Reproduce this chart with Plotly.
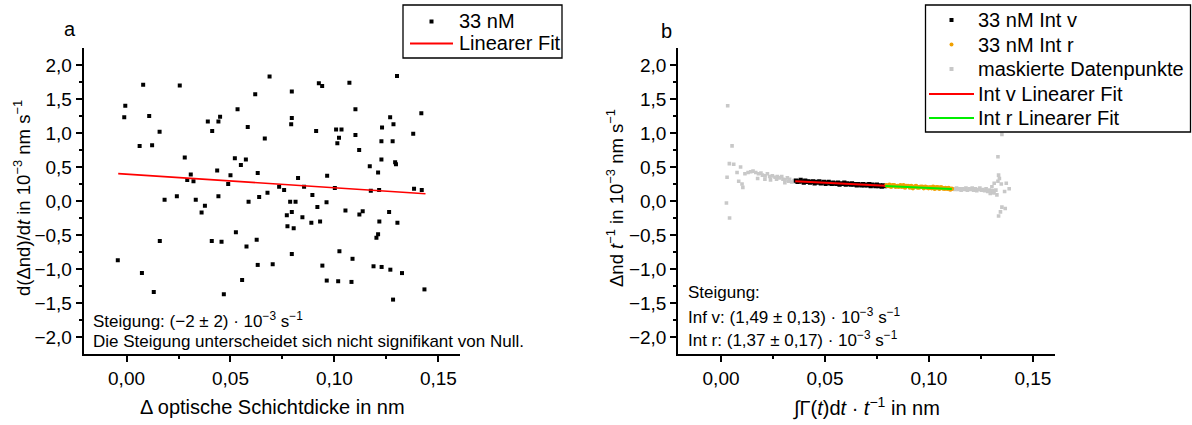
import plotly.graph_objects as go

# ---------------- Panel a: rate vs. optical thickness change ----------------
a_x = [0.0080, 0.0256, -0.0006, -0.0011, 0.0109, 0.0159, 0.0063, 0.0123, 0.0280, 0.0309,
       0.0292, 0.0322, 0.0391, 0.0442, 0.0450, 0.0412, 0.0436, 0.0500, 0.0489, 0.0521,
       0.0550, 0.0534,
       0.0183, 0.0242, 0.0333, 0.0442, 0.0377, 0.0361, 0.0526, 0.0160, 0.0410, 0.0457,
       -0.0042, 0.0074, 0.0556, 0.0131, 0.0468,
       0.0688, 0.0619, 0.0795, 0.0925, 0.0941, 0.1072, 0.1301, 0.1101, 0.0795, 0.0792,
       0.0583, 0.0665, 0.0912, 0.1008, 0.1034, 0.1022, 0.1014, 0.1101, 0.1268, 0.1284,
       0.1229, 0.1226, 0.1280, 0.1119, 0.0574, 0.0631, 0.1226, 0.1292, 0.1296, 0.1170,
       0.1210, 0.0825, 0.0965, 0.0734, 0.0758, 0.0854, 0.1002, 0.1175, 0.1215, 0.0678,
       0.0638, 0.0894,
       0.1379, 0.1418, 0.1383, 0.1420, 0.1433,
       0.0587, 0.0787, 0.0813, 0.0962, 0.0918, 0.0795, 0.0771, 0.0846, 0.0774, 0.0804,
       0.0889, 0.0931, 0.1053, 0.1136, 0.1120, 0.1263, 0.1216, 0.1303, 0.1210, 0.1202,
       0.0626, 0.0577, 0.0795, 0.1024, 0.1087, 0.0631, 0.0703, 0.0942, 0.1188, 0.1227,
       0.1269, 0.1325, 0.0963, 0.1018, 0.1082, 0.1282]
a_y = [1.71, 1.70, 1.40, 1.23, 1.25, 1.02, 0.81, 0.82, 0.64, 0.39,
       0.31, 0.29, 1.17, 1.17, 1.24, 1.03, 0.45, 0.38, 0.25, 0.63,
       0.53, 1.35,
       0.02, 0.07, 0.02, 0.07, -0.07, -0.17, -0.46, -0.59, -0.59, -0.60,
       -0.87, -1.06, -1.16, -1.34, -1.37,
       1.83, 1.57, 1.61, 1.73, 1.69, 1.74, 1.84, 1.35, 1.22, 1.13,
       1.09, 0.92, 1.03, 1.05, 1.05, 0.93, 0.85, 0.97, 1.23, 1.13,
       1.08, 0.88, 0.88, 0.75, 0.61, 0.41, 0.61, 0.57, 0.54, 0.51,
       0.42, 0.34, 0.37, 0.21, 0.16, 0.21, 0.19, 0.15, 0.16, 0.12,
       0.06, 0.09,
       0.99, 1.29, 0.18, 0.16, -1.30,
       -0.01, -0.01, -0.01, -0.02, -0.09, -0.16, -0.21, -0.24, -0.37, -0.40,
       -0.32, -0.30, -0.14, -0.15, -0.20, -0.16, -0.30, -0.32, -0.49, -0.54,
       -0.57, -0.67, -0.78, -0.74, -0.85, -0.94, -0.93, -0.95, -0.96, -0.97,
       -1.01, -1.06, -1.17, -1.18, -1.19, -1.45]

# linear fit of panel a (slope in 10^-3 s^-1)
a_fit_slope = -2.0
a_fit_center = (0.070, 0.255)
a_fit_xrange = [-0.0040, 0.1438]

# ---------------- Panel b: rate per time vs. integrated adsorption ----------------
masked_x = [0.0032, 0.0053, 0.0040, 0.0061, 0.0094, 0.0077, 0.0029, 0.0085, 0.0101, 0.0105,
            0.0026, 0.0041,
            0.0115, 0.0130, 0.0143, 0.0154, 0.0167, 0.0180, 0.0192, 0.0199, 0.0212, 0.0223,
            0.0234, 0.0247, 0.0260, 0.0271, 0.0282, 0.0292, 0.0298, 0.0308, 0.0319, 0.0330,
            0.0340, 0.0351, 0.0357, 0.0176, 0.0211, 0.0238, 0.0267, 0.0307, 0.0325,
            0.1118, 0.1125, 0.1133, 0.1140, 0.1148, 0.1155, 0.1163, 0.1170, 0.1178, 0.1185,
            0.1193, 0.1200, 0.1208, 0.1215, 0.1223, 0.1230, 0.1238, 0.1245, 0.1253, 0.1260,
            0.1268, 0.1275, 0.1283, 0.1290, 0.1298, 0.1305, 0.1313,
            0.1351, 0.1332, 0.1335, 0.1339, 0.1332, 0.1314, 0.1348, 0.1372, 0.1303, 0.1322,
            0.1298, 0.1364, 0.1386, 0.1327, 0.1295, 0.1311, 0.1351, 0.1344, 0.1367, 0.1335]
masked_y = [1.40, 0.81, 0.55, 0.54, 0.50, 0.42, 0.35, 0.29, 0.25, 0.20,
            -0.03, -0.25,
            0.40, 0.42, 0.43, 0.44, 0.42, 0.40, 0.41, 0.38, 0.37, 0.40,
            0.36, 0.37, 0.35, 0.36, 0.34, 0.36, 0.32, 0.31, 0.34, 0.32,
            0.28, 0.30, 0.28, 0.33, 0.32, 0.31, 0.32, 0.27, 0.29,
            0.18, 0.17, 0.19, 0.17, 0.18, 0.16, 0.18, 0.17, 0.19, 0.16,
            0.18, 0.17, 0.19, 0.16, 0.18, 0.15, 0.17, 0.19, 0.16, 0.17,
            0.15, 0.18, 0.14, 0.16, 0.13, 0.15, 0.12,
            0.98, 0.65, 0.38, 0.33, 0.29, 0.26, 0.25, 0.26, 0.21, 0.16,
            0.14, 0.14, 0.18, 0.09, 0.11, 0.13, -0.09, -0.16, -0.11, -0.22]

int_v_x = [0.0360, 0.0368, 0.0375, 0.0383, 0.0390, 0.0398, 0.0405, 0.0413, 0.0420, 0.0428,
           0.0435, 0.0443, 0.0450, 0.0458, 0.0465, 0.0473, 0.0480, 0.0488, 0.0495, 0.0503,
           0.0510, 0.0518, 0.0525, 0.0533, 0.0540, 0.0548, 0.0555, 0.0563, 0.0570, 0.0578,
           0.0585, 0.0593, 0.0600, 0.0608, 0.0615, 0.0623, 0.0630, 0.0638, 0.0645, 0.0653,
           0.0660, 0.0668, 0.0675, 0.0683, 0.0690, 0.0698, 0.0705, 0.0713, 0.0720, 0.0728,
           0.0735, 0.0743, 0.0750, 0.0758, 0.0765, 0.0773, 0.0780, 0.0788]
int_v_y = [0.30, 0.28, 0.29, 0.31, 0.29, 0.27, 0.30, 0.28, 0.29, 0.27,
           0.28, 0.29, 0.26, 0.28, 0.27, 0.29, 0.26, 0.27, 0.28, 0.25,
           0.27, 0.28, 0.26, 0.25, 0.27, 0.26, 0.25, 0.27, 0.24, 0.26,
           0.25, 0.27, 0.24, 0.26, 0.25, 0.24, 0.26, 0.24, 0.25, 0.23,
           0.25, 0.24, 0.23, 0.25, 0.23, 0.24, 0.23, 0.25, 0.22, 0.24,
           0.23, 0.22, 0.24, 0.22, 0.23, 0.21, 0.23, 0.22]

int_r_x = [0.0795, 0.0803, 0.0810, 0.0818, 0.0825, 0.0833, 0.0840, 0.0848, 0.0855, 0.0863,
           0.0870, 0.0878, 0.0885, 0.0893, 0.0900, 0.0908, 0.0915, 0.0923, 0.0930, 0.0938,
           0.0945, 0.0953, 0.0960, 0.0968, 0.0975, 0.0983, 0.0990, 0.0998, 0.1005, 0.1013,
           0.1020, 0.1028, 0.1035, 0.1043, 0.1050, 0.1058, 0.1065, 0.1073, 0.1080, 0.1088,
           0.1095, 0.1103, 0.1110]
int_r_y = [0.23, 0.22, 0.24, 0.21, 0.23, 0.23, 0.21, 0.22, 0.21, 0.23,
           0.21, 0.23, 0.20, 0.22, 0.22, 0.20, 0.22, 0.19, 0.21, 0.22,
           0.20, 0.20, 0.21, 0.21, 0.19, 0.21, 0.20, 0.19, 0.20, 0.19,
           0.21, 0.18, 0.20, 0.20, 0.18, 0.20, 0.19, 0.18, 0.19, 0.18,
           0.19, 0.17, 0.18]

# linear fits of panel b (slopes in 10^-3 s^-1)
v_fit_slope, v_fit_center, v_fit_xrange = -1.49, (0.0574, 0.2575), [0.0357, 0.0790]
r_fit_slope, r_fit_center, r_fit_xrange = -1.37, (0.0790, 0.2210), [0.0790, 0.1110]

# axis ticks
x_ticks = [0.0, 0.05, 0.10, 0.15]
x_tick_text = ["0,00", "0,05", "0,10", "0,15"]
y_ticks = [-2.0, -1.5, -1.0, -0.5, 0.0, 0.5, 1.0, 1.5, 2.0]
y_tick_text = ["\u22122,0", "\u22121,5", "\u22121,0", "\u22120,5", "0,0", "0,5", "1,0", "1,5", "2,0"]

# legend entries: (label, kind, colour)
legend_a = [("33 nM", "square", "black"), ("Linearer Fit", "line", "#ff0000")]
legend_b = [("33 nM Int v", "square", "black"), ("33 nM Int r", "circle", "#f0a000"),
            ("maskierte Datenpunkte", "square", "#c8c8c8"),
            ("Int v Linearer Fit", "line", "#ff0000"), ("Int r Linearer Fit", "line", "#00ee00")]


def fit_line(slope, center, xr):
    cx, cy = center
    return xr, [cy + slope * (xv - cx) for xv in xr]


W, H = 1192, 425
FONT = "Liberation Sans, Arial, sans-serif"

fig = go.Figure()

# panel a
fig.add_trace(go.Scatter(x=a_x, y=a_y, mode="markers", name="33 nM",
                         marker=dict(symbol="square", size=4, color="black"),
                         xaxis="x", yaxis="y"))
fx, fy = fit_line(a_fit_slope, a_fit_center, a_fit_xrange)
fig.add_trace(go.Scatter(x=fx, y=fy, mode="lines", name="Linearer Fit",
                         line=dict(color="#ff0000", width=1.6), xaxis="x", yaxis="y"))

# panel b
fig.add_trace(go.Scatter(x=masked_x, y=masked_y, mode="markers", name="maskierte Datenpunkte",
                         marker=dict(symbol="square", size=3.6, color="#c8c8c8"),
                         xaxis="x2", yaxis="y2"))
fig.add_trace(go.Scatter(x=int_v_x, y=int_v_y, mode="markers", name="33 nM Int v",
                         marker=dict(symbol="square", size=4.2, color="black"),
                         xaxis="x2", yaxis="y2"))
fig.add_trace(go.Scatter(x=int_r_x, y=int_r_y, mode="markers", name="33 nM Int r",
                         marker=dict(symbol="circle", size=4.6, color="#f0a000"),
                         xaxis="x2", yaxis="y2"))
vx, vy = fit_line(v_fit_slope, v_fit_center, v_fit_xrange)
fig.add_trace(go.Scatter(x=vx, y=vy, mode="lines", name="Int v Linearer Fit",
                         line=dict(color="#ff0000", width=2), xaxis="x2", yaxis="y2"))
rx, ry = fit_line(r_fit_slope, r_fit_center, r_fit_xrange)
fig.add_trace(go.Scatter(x=rx, y=ry, mode="lines", name="Int r Linearer Fit",
                         line=dict(color="#00ee00", width=2), xaxis="x2", yaxis="y2"))


def xaxis_style(domain, anchor):
    return dict(domain=domain, anchor=anchor, range=[-0.0207, 0.1604], showgrid=False,
                zeroline=False, showline=True, linecolor="black", linewidth=1.5, mirror=False,
                ticks="outside", ticklen=6, tickwidth=1.5, tickcolor="black",
                tickvals=x_ticks, ticktext=x_tick_text,
                tickfont=dict(size=19, color="black", family=FONT),
                minor=dict(tickvals=[-0.025, 0.025, 0.075, 0.125], ticks="outside",
                           ticklen=3, tickwidth=1.5, tickcolor="black"))


def yaxis_style(anchor):
    return dict(domain=[1 - 354 / H, 1 - 48 / H], range=[-2.25, 2.25], anchor=anchor,
                showgrid=False, zeroline=False, showline=True, linecolor="black",
                linewidth=1.5, mirror=False, ticks="outside", ticklen=6, tickwidth=1.5,
                tickcolor="black", tickvals=y_ticks, ticktext=y_tick_text,
                tickfont=dict(size=19, color="black", family=FONT),
                minor=dict(tickvals=[-1.75, -1.25, -0.75, -0.25, 0.25, 0.75, 1.25, 1.75],
                           ticks="outside", ticklen=3, tickwidth=1.5, tickcolor="black"))


ann_font = dict(size=17, color="black", family=FONT)
title_font = dict(size=20, color="black", family=FONT)
ytitle_font = dict(size=18.5, color="black", family=FONT)
legend_font = dict(size=20, color="black", family=FONT)


def px(x):
    return x / W


def py(y):
    return 1 - y / H


def ann(x, y, text, font, xanchor="left", angle=0):
    return dict(x=px(x), y=py(y), xref="paper", yref="paper", text=text,
                showarrow=False, xanchor=xanchor, yanchor="middle", font=font,
                textangle=angle)


annotations = [
    ann(70, 29, "a", title_font, "center"),
    ann(666, 31, "b", title_font, "center"),
    ann(22, 198, "d(\u0394nd)/d<i>t</i> in 10<sup>\u22123</sup> nm s<sup>\u22121</sup>",
        ytitle_font, "center", -90),
    ann(615, 198, "\u0394nd <i>t</i><sup>\u22121</sup> in 10<sup>\u22123</sup> nm s<sup>\u22121</sup>",
        ytitle_font, "center", -90),
    ann(272, 407, "\u0394 optische Schichtdicke in nm", title_font, "center"),
    ann(866, 407, "\u222b\u0393(<i>t</i>)d<i>t</i> \u00b7 <i>t</i><sup>\u22121</sup> in nm",
        title_font, "center"),
    ann(91, 320, "Steigung: (\u22122 \u00b1 2) \u00b7 10<sup>\u22123</sup> s<sup>\u22121</sup>", ann_font),
    ann(91, 341, "Die Steigung unterscheidet sich nicht signifikant von Null.", ann_font),
    ann(686, 292, "Steigung:", ann_font),
    ann(686, 316, "Inf v: (1,49 \u00b1 0,13) \u00b7 10<sup>\u22123</sup> s<sup>\u22121</sup>", ann_font),
    ann(686, 339, "Int r: (1,37 \u00b1 0,17) \u00b7 10<sup>\u22123</sup> s<sup>\u22121</sup>", ann_font),
]

shapes = []


def add_legend(entries, box, sym_x0, sym_x1, text_x, row_y):
    x0, y0, x1, y1 = box
    shapes.append(dict(type="rect", xref="paper", yref="paper",
                       x0=px(x0), x1=px(x1), y0=py(y1), y1=py(y0),
                       line=dict(color="black", width=1.3), fillcolor="white", layer="above"))
    for (label, kind, colour), yy in zip(entries, row_y):
        cx = (sym_x0 + sym_x1) / 2
        if kind == "line":
            shapes.append(dict(type="line", xref="paper", yref="paper",
                               x0=px(sym_x0), x1=px(sym_x1), y0=py(yy), y1=py(yy),
                               line=dict(color=colour, width=2), layer="above"))
        else:
            shapes.append(dict(type="rect" if kind == "square" else "circle",
                               xref="paper", yref="paper",
                               x0=px(cx - 2), x1=px(cx + 2), y0=py(yy + 2), y1=py(yy - 2),
                               line=dict(width=0), fillcolor=colour, layer="above"))
        annotations.append(ann(text_x, yy, label, legend_font))


add_legend(legend_a, (403, 5, 562, 58), 410, 453, 457, [21.5, 43.5])
add_legend(legend_b, (925.5, 5, 1190.5, 132), 929, 974, 976, [20, 44.5, 69, 94, 118])

fig.update_layout(
    width=W, height=H, margin=dict(l=0, r=0, t=0, b=0),
    paper_bgcolor="white", plot_bgcolor="white",
    font=dict(family=FONT, color="black"),
    xaxis=xaxis_style([83.5 / W, 460 / W], "y"), yaxis=yaxis_style("x"),
    xaxis2=xaxis_style([678 / W, 1054.5 / W], "y2"), yaxis2=yaxis_style("x2"),
    annotations=annotations,
    shapes=shapes,
    showlegend=False,
)

fig.write_html("out.html")
